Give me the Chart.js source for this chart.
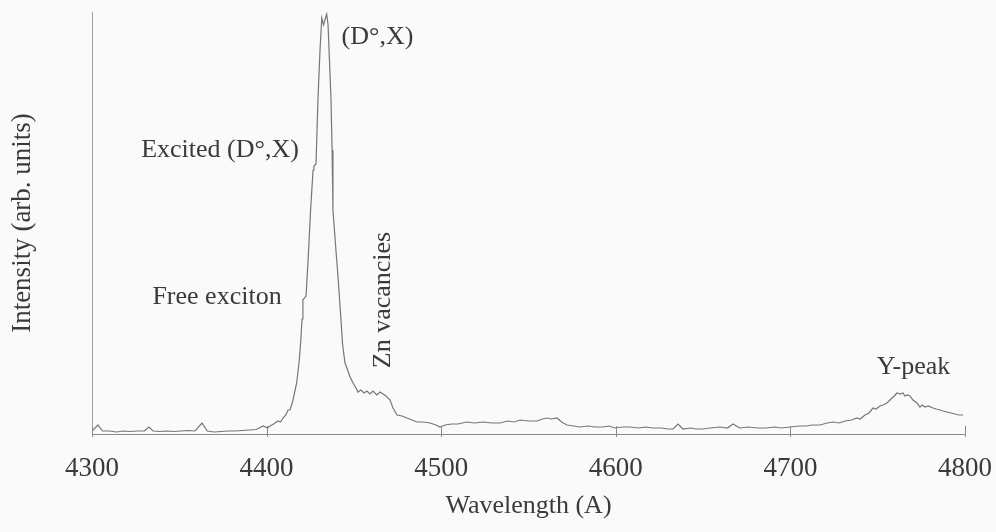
<!DOCTYPE html>
<html>
<head>
<meta charset="utf-8">
<script src="https://cdn.jsdelivr.net/npm/chart.js@4/dist/chart.umd.min.js"></script>
<style>
  html, body { margin: 0; padding: 0; background: #fafafa; }
  #wrap { width: 996px; height: 532px; }
</style>
</head>
<body>
<div id="wrap"><canvas id="c" width="996" height="532"></canvas></div>
<script>
// ---- data ----
const wavelengths = [
  4300, 4303.4, 4306, 4310, 4314, 4318, 4322, 4326, 4330, 4332.6, 4335, 4339, 4343, 4347, 4351, 4355, 4359,
  4363, 4366, 4370, 4374, 4378, 4382, 4386, 4390, 4394, 4398, 4400.5, 4402, 4404, 4406.5, 4408, 4409.4,
  4411, 4412.3, 4413.4, 4415, 4417.2, 4418.5, 4419.5, 4420.3, 4420.8, 4422.6, 4423.8, 4425.2, 4426.6,
  4427.1, 4428.3, 4429.4, 4430.6, 4431.6, 4432.6, 4433.4, 4434.4, 4435.2, 4436, 4436.9, 4437.5, 4438,
  4439.7, 4440.9, 4442.6, 4443.5, 4444.3, 4444.9, 4446, 4447.8, 4449.5, 4451.2, 4452.3, 4454, 4455.8,
  4457.5, 4459.2, 4460.9, 4463.2, 4465, 4466.7, 4468.4, 4470.7, 4472.4, 4474.7, 4477.5, 4480.4, 4483.3,
  4486.1, 4489.6, 4493.6, 4497, 4499.3, 4502.2, 4506, 4509.6, 4514.8, 4519, 4524, 4529, 4533.7, 4538,
  4542, 4545.1, 4550, 4554.9, 4558, 4560.6, 4563, 4566.3, 4569, 4572, 4576, 4579.5, 4584, 4588, 4592.7,
  4596, 4599.5, 4604, 4608.1, 4613, 4617, 4621.3, 4626, 4630, 4632.8, 4635.6, 4638.5, 4643, 4646, 4649.9,
  4654, 4659.7, 4664, 4667.1, 4671, 4676, 4681, 4686, 4691, 4695, 4699.8, 4705, 4709, 4712.4, 4717, 4721,
  4724.4, 4728, 4731.3, 4735, 4738.1, 4740, 4742.7, 4745, 4747.3, 4749, 4751.3, 4753, 4755.3, 4758.2,
  4759.5, 4761, 4762.8, 4764.5, 4765.5, 4766.8, 4768.5, 4770.2, 4772.5, 4774.2, 4775.5, 4777.1, 4779,
  4781.7, 4783.5, 4785.7, 4787.5, 4789.7, 4792, 4794.3, 4796.5, 4798.9
];
const intensity = [
  3, 9, 3, 3, 2, 3, 2.5, 3, 3, 7, 3, 2.5, 3, 2.5, 3, 3.5, 3,
  11, 3, 2, 2.5, 3, 3, 3.5, 4, 4.5, 8, 6, 8, 10, 13, 12, 16,
  19, 24, 24, 33, 51, 70, 91, 115, 134, 138, 175, 224, 264,
  268, 270, 334, 384, 416, 409, 414, 420, 409, 374, 334, 284, 224,
  184, 157, 114, 90, 79, 71, 66, 57, 51, 46, 42, 44, 41,
  43, 40, 43, 39, 42, 40, 38, 34, 26, 19, 18, 16, 14,
  12, 12, 11, 9, 7, 9, 10, 10, 12, 11, 12, 11, 11, 13,
  12, 14, 13, 13, 15, 16, 15, 16, 12, 9, 8, 7, 8, 7, 7,
  8, 6, 7, 7, 6, 7, 6, 6, 5, 5, 10, 5, 6, 5, 5,
  6, 7, 6, 10, 6, 7, 6, 6, 7, 6, 7, 8, 8, 9, 9, 11,
  12, 11, 13, 14, 16, 15, 19, 21, 26, 25, 28, 29, 31, 36,
  38, 41, 40, 41, 38, 39, 38, 34, 31, 27, 29, 27, 28,
  26, 25, 24, 23, 22, 21, 20, 19, 19
];
const tickValues = [4300, 4400, 4500, 4600, 4700, 4800];
const tickLabels = ["4300", "4400", "4500", "4600", "4700", "4800"];
const annotationTexts = ["(D°,X)", "Excited (D°,X)", "Free exciton", "Zn vacancies", "Y-peak"];
const annotationX = [4463.5, 4373.3, 4371.6, 4466.7, 4770.5];
const annotationY = [397, 284, 137, 134, 67];
const annotationRot = [0, 0, 0, -90, 0];

// ---- chart ----
const SERIF = "'Liberation Serif', 'Times New Roman', serif";
const TEXT = '#3a3a3a';

const points = wavelengths.map((w, i) => ({ x: w, y: intensity[i] }));

const extras = {
  id: 'extras',
  afterDraw(chart) {
    const ctx = chart.ctx;
    const xs = chart.scales.x, ys = chart.scales.y;
    // tick marks crossing the axis
    ctx.save();
    ctx.strokeStyle = '#8a8a8a';
    ctx.lineWidth = 1;
    const b = chart.chartArea.bottom;
    tickValues.forEach(v => {
      const px = Math.round(xs.getPixelForValue(v)) + 0.5;
      ctx.beginPath();
      ctx.moveTo(px, b - 8);
      ctx.lineTo(px, b + 3);
      ctx.stroke();
    });
    ctx.restore();
    // annotations
    ctx.save();
    ctx.fillStyle = TEXT;
    ctx.font = "26px " + SERIF;
    ctx.textAlign = 'center';
    ctx.textBaseline = 'middle';
    annotationTexts.forEach((t, i) => {
      const px = xs.getPixelForValue(annotationX[i]);
      const py = ys.getPixelForValue(annotationY[i]);
      ctx.save();
      ctx.translate(px, py);
      ctx.rotate(annotationRot[i] * Math.PI / 180);
      ctx.fillText(t, 0, 0);
      ctx.restore();
    });
    ctx.restore();
  }
};

new Chart(document.getElementById('c'), {
  type: 'line',
  data: {
    datasets: [{
      data: points,
      borderColor: '#767676',
      borderWidth: 1.2,
      pointRadius: 0,
      tension: 0,
      fill: false
    }]
  },
  options: {
    responsive: false,
    animation: false,
    parsing: true,
    layout: { padding: { left: 0, right: 31, top: 12, bottom: 0 } },
    plugins: { legend: { display: false }, tooltip: { enabled: false } },
    scales: {
      x: {
        type: 'linear',
        min: 4300,
        max: 4800,
        afterBuildTicks(scale) { scale.ticks = tickValues.map(v => ({ value: v })); },
        afterFit(scale) { scale.height = 98; scale.paddingLeft = 0; scale.paddingRight = 0; },
        ticks: {
          callback(value) { const i = tickValues.indexOf(value); return i >= 0 ? tickLabels[i] : ''; },
          font: { family: SERIF, size: 27 },
          color: TEXT,
          padding: 19,
          maxRotation: 0,
          autoSkip: false
        },
        grid: { display: true, drawOnChartArea: false, drawTicks: false, color: 'rgba(0,0,0,0)' },
        border: { display: true, color: '#8a8a8a', width: 1 },
        title: {
          display: true,
          text: 'Wavelength (A)',
          font: { family: SERIF, size: 26 },
          color: TEXT,
          padding: { top: 0, bottom: 10 }
        }
      },
      y: {
        type: 'linear',
        min: 0,
        max: 422,
        afterFit(scale) { scale.width = 92; },
        ticks: { display: false },
        grid: { display: true, drawOnChartArea: false, drawTicks: false, color: 'rgba(0,0,0,0)' },
        border: { display: true, color: '#a0a0a0', width: 1 },
        title: {
          display: true,
          text: 'Intensity (arb. units)',
          font: { family: SERIF, size: 27 },
          color: TEXT,
          padding: { top: 7, bottom: 0 }
        }
      }
    }
  },
  plugins: [extras]
});
</script>
</body>
</html>
